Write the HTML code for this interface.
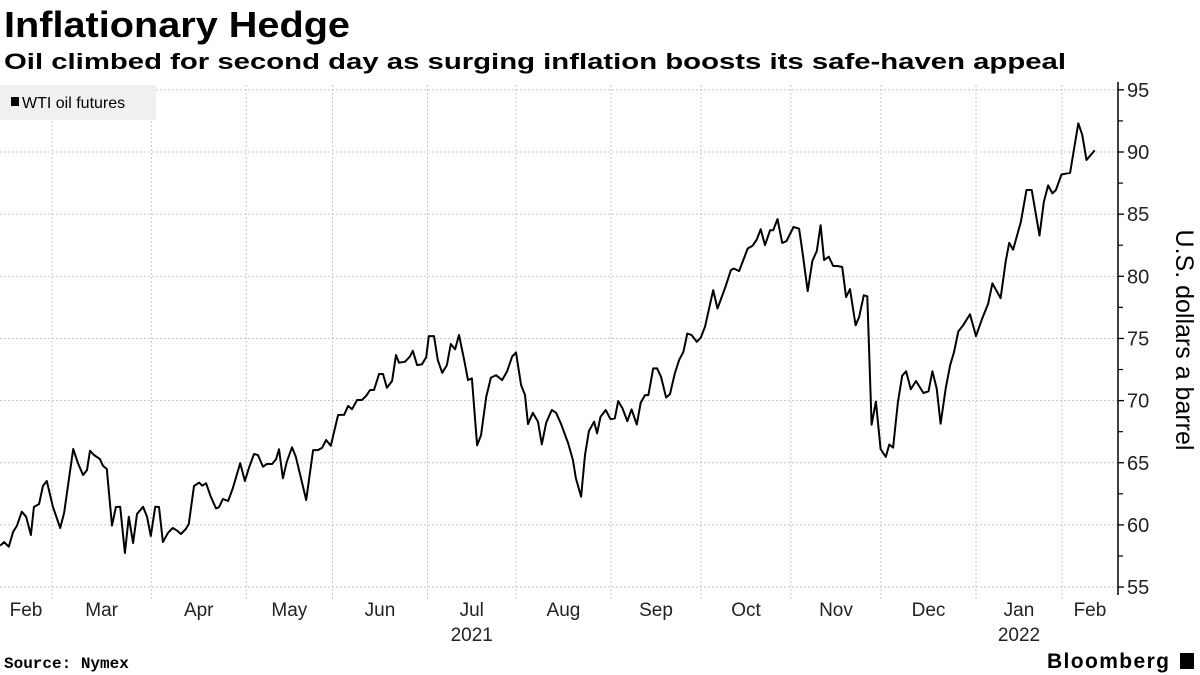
<!DOCTYPE html>
<html><head><meta charset="utf-8"><style>
html,body{margin:0;padding:0;background:#fff;}
svg{display:block;font-family:"Liberation Sans",sans-serif;}
</style></head><body>
<svg id="chart" width="1200" height="675" viewBox="0 0 1200 675">
<text x="4" y="37" font-size="36" font-weight="bold" fill="#000" textLength="346" lengthAdjust="spacingAndGlyphs">Inflationary Hedge</text>
<text x="4" y="69" font-size="22" font-weight="bold" fill="#000" textLength="1062" lengthAdjust="spacingAndGlyphs">Oil climbed for second day as surging inflation boosts its safe-haven appeal</text>
<g id="grid"></g>
<g id="axis"></g>
<g id="xaxis"></g>
<g id="series"></g>
<g>
<rect x="0" y="85" width="156" height="35" fill="#f0f0f0"/>
<rect x="11" y="97" width="8" height="9" fill="#000"/>
<text x="22" y="108" font-size="16" fill="#000">WTI oil futures</text>
</g>
<text transform="translate(1176,340) rotate(90)" text-anchor="middle" font-size="25" fill="#000">U.S. dollars a barrel</text>
<text x="4" y="668" font-size="16" font-weight="bold" font-family="Liberation Mono, monospace" fill="#000">Source: Nymex</text>
<text x="1047" y="668" font-size="21" font-weight="bold" fill="#000" textLength="122">Bloomberg</text>
<rect x="1180" y="653" width="14" height="16" fill="#000"/>
</svg>
<script>
const days = [-12.0,-11.1,-10.0,-9.0,-8.1,-7.0,-6.0,-4.9,-4.2,-3.0,-2.1,-1.2,0.2,1.9,2.8,4.9,6.0,7.2,8.1,8.8,9.7,11.1,11.8,12.7,13.9,14.8,15.8,16.9,17.8,18.8,19.7,21.1,22.0,22.9,23.9,24.8,25.7,26.9,28.0,29.0,29.9,31.0,31.7,32.9,34.1,
34.8,35.7,36.8,38.0,38.7,39.6,40.8,41.9,43.6,44.7,45.6,46.8,47.7,48.9,49.8,51.0,51.9,52.6,53.5,54.4,55.6,56.5,58.9,60.5,61.6,62.6,63.5,64.6,66.3,67.7,68.6,69.5,70.7,71.8,72.8,73.7,74.6,75.8,76.7,77.6,78.8,79.7,80.4,81.8,82.9,
83.6,84.6,85.7,86.7,87.3,88.5,89.4,90.4,91.5,92.4,93.4,94.3,95.5,96.4,97.3,98.5,99.4,100.6,101.7,102.9,104.3,105.4,106.6,107.5,108.7,109.6,110.3,111.4,112.6,113.5,114.5,115.8,116.8,117.9,119.6,120.7,121.4,122.6,123.5,124.4,125.6,126.3,
127.1,128.3,129.4,130.4,131.2,132.2,133.3,134.3,135.5,136.4,137.4,138.2,139.3,140.2,141.1,142.3,143.2,144.3,145.3,146.3,147.2,148.2,149.4,150.3,151.3,153.2,154.2,156.1,157.3,158.0,159.2,161.2,162.3,163.3,164.2,165.2,166.4,167.1,168.1,
169.2,170.2,171.8,173.1,173.9,175.1,176.2,177.2,178.1,178.9,180.0,181.0,182.0,183.1,184.0,184.9,186.2,187.0,188.1,188.9,189.9,190.9,192.0,193.2,194.0,194.9,196.0,197.0,197.9,199.0,200.2,201.9,203.1,204.0,205.0,205.9,207.1,208.1,209.0,210.0,211.1,212.7,214.1,215.6,216.9,217.9,219.8,221.0,221.8,222.7,224.5,225.8,227.0,228.8,229.8,230.8,231.8,232.6,233.9,235.9,237.8,238.7,239.7,241.6];
const prices = [58.33,58.62,58.25,59.45,59.94,61.06,60.66,59.19,61.44,61.68,63.13,63.53,61.46,59.75,60.96,66.11,64.98,64.01,64.42,65.97,65.62,65.30,64.76,64.50,59.94,61.44,61.46,57.74,60.66,58.54,60.88,61.46,60.66,59.11,61.46,61.44,58.62,59.37,59.75,59.53,59.27,59.67,60.07,63.13,63.40,
63.15,63.35,62.27,61.33,61.42,62.08,61.92,62.94,64.96,63.53,64.55,65.70,65.62,64.68,64.90,64.90,65.28,66.08,63.75,65.08,66.24,65.49,62.00,66.02,66.02,66.21,66.83,66.37,68.84,68.86,69.57,69.30,70.05,70.05,70.39,70.85,70.85,72.14,72.14,71.04,71.58,73.67,73.05,73.13,73.53,
74.01,72.86,72.92,73.48,75.19,75.19,73.26,72.24,72.86,74.55,74.13,75.28,73.26,71.65,71.79,66.40,67.20,70.29,71.85,72.04,71.65,72.32,73.53,73.88,71.25,70.45,68.11,69.02,68.30,66.48,68.22,69.24,69.02,68.17,66.56,65.22,63.75,62.27,65.62,67.55,68.30,67.36,
68.70,69.24,68.50,68.57,69.96,69.37,68.35,69.29,68.08,69.83,70.44,70.44,72.59,72.59,71.92,70.25,70.52,72.18,73.26,73.93,75.40,75.27,74.73,75.05,75.94,78.89,77.41,79.21,80.50,80.63,80.42,82.24,82.45,82.96,83.79,82.51,83.71,83.71,84.60,
82.69,82.83,83.97,83.83,81.94,78.81,81.25,82.03,84.11,81.31,81.58,80.83,80.83,80.75,78.33,78.97,76.06,76.72,78.47,78.39,68.06,69.92,66.11,65.47,66.47,66.22,69.86,72.00,72.36,70.92,71.58,70.61,70.75,72.36,70.97,68.14,71.03,72.83,73.89,75.56,76.06,76.94,75.19,76.67,77.78,79.44,78.25,81.25,82.69,82.14,84.39,86.94,86.94,83.28,85.97,87.31,86.67,86.94,88.19,88.33,92.31,91.39,89.36,90.14];
const monthStarts = [0,23,45,65,87,107.5,129.5,150.4,171.2,192.1,214.1,234];
const monthLabels = ["Feb","Mar","Apr","May","Jun","Jul","Aug","Sep","Oct","Nov","Dec","Jan","Feb"];
const yTicks = [55,60,65,70,75,80,85,90,95];
const yearLabels = [{label:"2021", month:5},{label:"2022", month:11}];

const NS = "http://www.w3.org/2000/svg";
const PLOT_L = 0, AXIS_X = 1118, DAY0 = -12.05, DAY1 = 247;
const xS = d => PLOT_L + (d - DAY0) / (DAY1 - DAY0) * (AXIS_X - PLOT_L);
const yS = v => 152 + (90 - v) * 12.43;
function mk(tag, attrs, parent){const e=document.createElementNS(NS,tag);for(const k in attrs)e.setAttribute(k,attrs[k]);parent.appendChild(e);return e;}
const grid=document.getElementById('grid'), axis=document.getElementById('axis'), xaxis=document.getElementById('xaxis'), series=document.getElementById('series');

yTicks.forEach(v=>{
  const y=yS(v);
  const g=mk('line',{x1:0,x2:AXIS_X,y1:y,y2:y,stroke:'#c8c8c8','stroke-width':1,'stroke-dasharray':'2,2'},grid);
  
  
  const t=mk('line',{x1:AXIS_X,x2:AXIS_X+6,y1:y,y2:y,stroke:'#000','stroke-width':1.3},axis);
  
  
  const l=mk('text',{x:AXIS_X+9,y:y+7,'font-size':20,fill:'#222'},axis);
  l.textContent=v;
  
  
  if(v<95){const m=mk('line',{x1:AXIS_X,x2:AXIS_X+5,y1:yS(v+2.5),y2:yS(v+2.5),stroke:'#000','stroke-width':1.2},axis);
  
  }
});
const ax=mk('line',{x1:AXIS_X,x2:AXIS_X,y1:yS(95)-8,y2:yS(55)+8,stroke:'#000','stroke-width':1.5},axis);



monthStarts.forEach(d=>{
  const x=xS(d);
  const g=mk('line',{x1:x,x2:x,y1:85,y2:600,stroke:'#c8c8c8','stroke-width':1,'stroke-dasharray':'2,2'},grid);
  
  
});
const bounds=[DAY0].concat(monthStarts).concat([DAY1]);
monthLabels.forEach((m,i)=>{
  const cx=(xS(bounds[i])+xS(bounds[i+1]))/2;
  const t=mk('text',{x:cx,y:616,'font-size':19,fill:'#222','text-anchor':'middle'},xaxis);
  t.textContent=m;
  
  
});
yearLabels.forEach(o=>{
  const cx=(xS(bounds[o.month])+xS(bounds[o.month+1]))/2;
  const t=mk('text',{x:cx,y:641,'font-size':19,fill:'#222','text-anchor':'middle'},xaxis);
  t.textContent=o.label;
  
  
});

const pts=days.map((d,i)=>xS(d).toFixed(1)+','+yS(prices[i]).toFixed(1)).join(' ');
const line=mk('polyline',{points:pts,fill:'none',stroke:'#000','stroke-width':2,'stroke-linejoin':'round'},series);


</script>
</body></html>
